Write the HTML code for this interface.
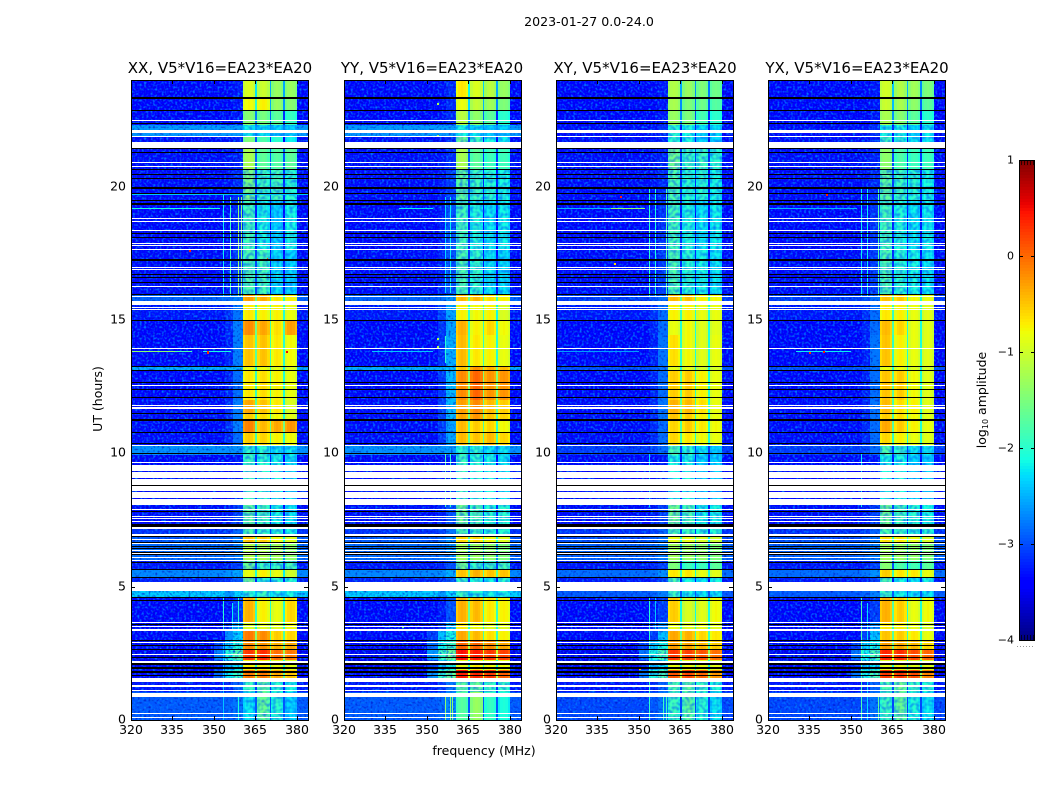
<!DOCTYPE html>
<html lang="en">
<head>
<meta charset="utf-8">
<title>2023-01-27 0.0-24.0</title>
<style>
html,body{margin:0;padding:0;background:#fff;width:1050px;height:800px;overflow:hidden}
svg{display:block}
text{font-family:"DejaVu Sans","Liberation Sans",sans-serif;fill:#000}
</style>
</head>
<body>
<svg id="chart" xmlns="http://www.w3.org/2000/svg" width="1050" height="800" viewBox="0 0 1050 800">
  <defs>
    <filter id="speckle" x="0" y="0" width="100%" height="100%" color-interpolation-filters="sRGB">
      <feTurbulence type="fractalNoise" baseFrequency="0.45" numOctaves="1" seed="3" result="n"/>
      <feColorMatrix in="n" type="matrix" values="0 0 0 0 0  0 0 0 0 0.5  0 0 0 0 1  3 0 0 0 -1.4" result="light"/>
      <feColorMatrix in="n" type="matrix" values="0 0 0 0 0  0 0 0 0 0  0 0 0 0 0.7  0 2 0 0 -1.05" result="dark"/>
      <feMerge><feMergeNode in="light"/><feMergeNode in="dark"/></feMerge>
    </filter>
    <filter id="mottle" x="0" y="0" width="100%" height="100%" color-interpolation-filters="sRGB">
      <feTurbulence type="fractalNoise" baseFrequency="0.3" numOctaves="1" seed="8"/>
      <feColorMatrix type="matrix" values="0 0 0 0 0  0 0 0 0 0.35  0 0 0 0 1  1.6 0 0 0 -0.6"/>
    </filter>
  </defs>
  <text x="589" y="26" font-size="12.6" text-anchor="middle">2023-01-27 0.0-24.0</text>
  <text x="220" y="73" font-size="15" text-anchor="middle">XX, V5*V16=EA23*EA20</text>
  <text x="432" y="73" font-size="15" text-anchor="middle">YY, V5*V16=EA23*EA20</text>
  <text x="645" y="73" font-size="15" text-anchor="middle">XY, V5*V16=EA23*EA20</text>
  <text x="857" y="73" font-size="15" text-anchor="middle">YX, V5*V16=EA23*EA20</text>
  <text x="0" y="0" font-size="12.5" text-anchor="middle" transform="translate(102 399) rotate(-90)">UT (hours)</text>
  <text x="484" y="755" font-size="12.5" text-anchor="middle">frequency (MHz)</text>
  <text x="0" y="0" font-size="12.5" text-anchor="middle" transform="translate(986 400) rotate(-90)">log<tspan font-size="8" dy="2">10</tspan><tspan dy="-2"> amplitude</tspan></text>
  <g id="panels"></g>
  <g id="colorbar"></g>
</svg>
<script>
// Time blocks (UT hours, top to bottom); each block holds one row of values per panel.
const utEdges = [24,23.33,22.88,22.31,21.86,21.45,20.62,19.5,17.62,15.94,15.56,15.0,14.44,13.28,13.09,12.0,11.51,11.25,10.76,10.28,9.94,8.06,7.2,6.86,6.64,6.0,5.63,5.36,4.88,4.58,3.68,3.38,3.0,2.66,2.25,1.88,1.58,1.05,0];

// Frequency sub-bands (MHz)
const subBands = [[360.5,365.0],[365.6,370.1],[370.7,375.0],[375.6,380.0]];
const offBandEdges = [320,350,354,357,360.5];
const freqMax = 384;
const bandShape = [-0.12,0,0.04,0,-0.12];

const xTicks = [320,335,350,365,380];
const yTicks = [0,5,10,15,20];
const colorTicks = [1,0,-1,-2,-3,-4];
const panelNames = ['xx','yy','xy','yx'];

// log10 amplitude in the four sub-bands per time block
const bandsXX = [[-0.95,-1.05,-1.35,-1.35],[-0.8,-0.75,-1.35,-1.45],[-1.45,-1.55,-1.7,-1.95],[-2.15,-2.2,-2.3,-2.3],[-1.5,-1.8,-2.0,-2.2],[-1.25,-1.7,-1.75,-1.7],[-1.55,-1.9,-1.85,-2.0],[-1.85,-2.1,-2.3,-2.1],[-1.8,-1.85,-2.25,-2.3],[-0.3,-0.4,-0.7,-0.75],[-0.7,-0.75,-0.75,-0.85],[-0.2,-0.35,-0.65,-0.3],[-0.5,-0.5,-0.7,-0.8],[-0.85,-0.85,-0.9,-0.95],[-0.7,-0.65,-0.75,-0.85],[-0.35,-0.5,-0.7,-0.95],[-0.55,-0.65,-0.8,-0.9],[-0.15,-0.45,-0.35,-0.25],[-0.55,-0.6,-0.75,-0.8],[-2.0,-2.0,-2.2,-2.2],[-1.9,-2.0,-2.1,-2.2],[-1.7,-1.85,-2.1,-2.2],[-1.8,-1.9,-2,-2.1],[-0.5,-0.55,-0.8,-0.9],[-1.2,-1.25,-1.3,-1.4],[-1.6,-1.9,-1.9,-1.85],[-0.85,-0.75,-0.85,-1.0],[-1.6,-2.0,-2.0,-2.0],[-2.0,-1.9,-2.1,-2.1],[-0.4,-0.75,-0.85,-0.6],[-0.95,-0.9,-0.9,-0.8],[-0.1,-0.2,-0.55,-0.6],[-0.2,-0.25,-0.4,-0.35],[0.25,0.3,-0.05,-0.1],[-0.75,-0.75,-0.85,-0.9],[-0.1,-0.1,-0.35,-0.5],[-1.9,-1.7,-2.0,-2.1],[-2.2,-1.65,-2.0,-2.3]];
const bandsYY = [[-0.7,-0.95,-1.15,-1.35],[-0.85,-1.1,-1.3,-1.5],[-1.15,-1.4,-1.7,-2.0],[-2.1,-2.2,-2.3,-2.3],[-1.6,-1.9,-2.1,-2.2],[-1.25,-1.7,-1.9,-1.9],[-1.7,-1.9,-2.0,-2.1],[-1.85,-2.05,-2.2,-2.15],[-1.8,-1.95,-2.2,-2.25],[-0.45,-0.45,-0.65,-0.75],[-0.75,-0.8,-0.75,-0.95],[-0.4,-0.75,-0.6,-0.8],[-0.45,-0.7,-0.75,-0.85],[-0.5,-0.25,-0.4,-0.45],[-0.2,0,-0.25,-0.25],[-0.3,-0.2,-0.45,-0.55],[-0.35,-0.25,-0.5,-0.6],[-0.45,-0.55,-0.6,-0.8],[-0.45,-0.5,-0.45,-0.6],[-2.0,-2.0,-2.2,-2.2],[-1.9,-2.0,-2.1,-2.2],[-1.6,-1.8,-2.0,-2.0],[-1.8,-1.9,-2,-2],[-0.6,-0.6,-0.8,-0.9],[-1.3,-1.35,-1.4,-1.5],[-1.6,-1.9,-1.9,-1.85],[-0.5,-0.4,-0.5,-0.5],[-1.9,-2.0,-2.1,-2.0],[-1.9,-2.0,-2.1,-2.1],[-0.4,-0.45,-0.7,-0.75],[-0.7,-0.8,-0.9,-0.9],[-0.35,-0.45,-0.65,-0.75],[0.0,0.0,-0.2,-0.35],[0.45,0.4,0.25,0.2],[-0.85,-0.7,-0.8,-0.8],[0.4,0.35,0.25,0.05],[-1.7,-1.65,-1.9,-1.95],[-1.75,-1.35,-1.95,-2.1]];
const bandsXY = [[-1.2,-1.35,-1.5,-1.6],[-1.25,-1.5,-1.6,-1.75],[-1.35,-1.5,-1.85,-2.0],[-2.0,-2.1,-2.25,-2.25],[-2.0,-2.1,-2.3,-2.3],[-1.6,-1.9,-1.9,-2.0],[-1.8,-2.0,-2.0,-2.1],[-1.85,-2.05,-2.2,-2.15],[-1.8,-2.0,-2.1,-2.2],[-0.45,-0.5,-0.75,-0.8],[-0.75,-0.75,-0.85,-0.85],[-0.85,-0.8,-0.9,-0.9],[-0.65,-0.8,-0.9,-0.85],[-0.9,-0.9,-1,-1],[-0.55,-0.55,-0.75,-0.85],[-0.4,-0.45,-0.65,-0.85],[-0.5,-0.55,-0.75,-0.85],[-0.6,-0.55,-0.7,-0.8],[-0.6,-0.7,-0.8,-0.85],[-1.8,-2.0,-2.2,-2.3],[-2.1,-2.1,-2.3,-2.3],[-1.6,-1.8,-2.1,-2.1],[-1.8,-1.9,-2,-2],[-0.85,-0.85,-0.95,-1],[-1.3,-1.35,-1.4,-1.5],[-1.5,-1.9,-1.9,-1.7],[-0.7,-0.7,-0.85,-0.9],[-1.8,-2.1,-2.2,-2.1],[-1.9,-2.1,-2.2,-2.2],[-0.55,-0.95,-0.9,-0.8],[-0.85,-0.9,-0.85,-0.9],[-0.35,-0.4,-0.6,-0.7],[-0.3,-0.35,-0.45,-0.55],[0.25,0.2,0.1,-0.05],[-0.85,-0.85,-0.85,-0.9],[0.1,0.15,0.0,-0.25],[-1.8,-1.7,-1.9,-2.05],[-1.9,-1.7,-2.0,-2.2]];
const bandsYX = [[-1.0,-1.2,-1.3,-1.5],[-1.05,-1.25,-1.4,-1.7],[-1.25,-1.45,-1.7,-2.0],[-2.1,-2.1,-2.3,-2.2],[-1.9,-2,-2.2,-2.2],[-1.4,-1.8,-1.9,-1.9],[-1.7,-1.9,-2,-2.1],[-1.85,-2.05,-2.2,-2.15],[-1.8,-2.0,-2.1,-2.2],[-0.5,-0.55,-0.8,-0.85],[-0.7,-0.75,-0.85,-0.9],[-0.45,-0.6,-0.85,-0.9],[-0.5,-0.75,-0.85,-0.9],[-0.85,-0.85,-0.95,-1],[-0.5,-0.55,-0.8,-0.9],[-0.45,-0.65,-0.75,-0.9],[-0.55,-0.65,-0.8,-0.9],[-0.35,-0.55,-0.75,-0.85],[-0.6,-0.75,-0.85,-0.9],[-1.8,-1.95,-2.2,-2.2],[-2.1,-2.1,-2.3,-2.3],[-1.6,-1.85,-2.0,-2.1],[-1.8,-1.9,-2,-2],[-0.65,-0.7,-0.85,-0.95],[-1.3,-1.35,-1.4,-1.5],[-1.45,-1.8,-1.85,-1.7],[-0.55,-0.7,-0.7,-0.85],[-1.8,-2.1,-2.2,-2.1],[-1.9,-2.1,-2.2,-2.2],[-0.4,-0.55,-0.85,-0.8],[-0.7,-0.75,-0.85,-0.95],[-0.5,-0.55,-0.7,-0.85],[-0.3,-0.35,-0.45,-0.6],[0.35,0.3,0.15,0.0],[-0.9,-0.85,-0.9,-0.9],[0.25,0.25,0.15,-0.15],[-1.8,-1.6,-1.9,-2.0],[-1.9,-1.65,-2.05,-2.2]];

// Off-band background level per time block
const bgParallel = [-3.4,-3.4,-3.4,-2.6,-3.35,-3.35,-3.35,-3.4,-3.35,-2.9,-3.3,-3.4,-3.45,-2.5,-3.4,-3.35,-3.35,-3.35,-3.35,-2.65,-3.4,-3.35,-3.15,-2.95,-2.85,-3.3,-2.7,-3.25,-2.35,-3.4,-3.4,-3.4,-3.4,-3.5,-3.5,-3.4,-3.3,-2.95];
const bgCross = [-3.4,-3.4,-3.4,-3.35,-3.35,-3.35,-3.35,-3.4,-3.35,-3.1,-3.3,-3.4,-3.45,-3.0,-3.4,-3.35,-3.35,-3.35,-3.35,-3.1,-3.4,-3.35,-3.15,-3.0,-2.9,-3.3,-2.85,-3.3,-2.95,-3.4,-3.4,-3.4,-3.4,-3.5,-3.5,-3.4,-3.3,-3.05];

// Level just below the first sub-band (357-360.5 MHz) per time block
const leakXX = [-3.3,-3.3,-3.3,-2.6,-3.25,-3.25,-3.2,-3.2,-3.1,-2.75,-2.8,-2.75,-2.75,-2.5,-2.85,-2.75,-2.75,-2.75,-2.85,-2.65,-3.3,-3.1,-2.9,-2.75,-2.75,-3.1,-2.55,-3.0,-2.3,-3.1,-2.6,-2.35,-2.05,-1.75,-2.2,-1.9,-2.9,-2.8];
const leakYY = [-3.2,-3.2,-3.2,-2.6,-3.2,-3.2,-3.1,-3.0,-3.0,-2.65,-2.55,-2.55,-2.5,-2.4,-2.45,-2.45,-2.45,-2.55,-2.55,-2.6,-3.3,-3.0,-2.8,-2.65,-2.65,-3.0,-2.5,-3.0,-2.3,-3.0,-2.45,-2.1,-1.85,-1.6,-2.1,-1.65,-2.8,-2.7];
const leakCross = [-3.3,-3.3,-3.3,-3.2,-3.25,-3.25,-3.2,-3.15,-3.1,-2.85,-2.85,-2.85,-2.8,-2.8,-2.85,-2.8,-2.8,-2.85,-2.85,-2.85,-3.3,-3.1,-2.9,-2.8,-2.75,-3.1,-2.65,-3.1,-2.75,-3.1,-2.65,-2.4,-2.1,-1.8,-2.2,-1.8,-2.9,-2.8];

// Flagged time ranges (UT hours), common to all panels
const blackRows = [23.325,22.86,22.36,21.42,21.27,20.65,20.45,20.31,19.95,19.75,19.47,19.35,18.25,18.09,17.25,16.72,16.6,16.41,15.94,14.99,13.25,13.11,12.66,12.4,12.08,11.5,11.25,10.77,10.36,9.98,8.8,7.83,6.87,6.67,6.52,6.42,6.27,6.2,5.89,5.66,5.35,4.58,4.49,3.57,2.99,2.8,2.64,2.33,2.1,1.95,1.8,1.68];
const blackSpans = [[7.24,7.35]];
const whiteRows = [22.47,21.87,20.91,20.76,18.81,18.71,18.36,17.86,17.78,17.64,16.98,16.89,16.26,15.87,15.46,15.38,13.94,12.53,11.8,11.7,10.3,9.65,7.9,7.62,7.55,7.43,7.2,6.76,6.61,6.49,6.35,6.24,6.1,5.97,4.6,3.66,3.49,3.375,2.91,2.45,2.175,2.13,0.26,0.11];
const whiteSpans = [[22.01,22.13],[21.45,21.68],[15.56,15.71],[9.35,9.57],[9.08,9.3],[8.82,9.03],[8.58,8.76],[8.33,8.54],[8.08,8.28],[6.9,6.98],[4.85,5.18],[1.425,1.575],[1.25,1.3],[1.075,1.11],[0.85,1.01]];

// Narrow vertical interference: panel, frequency, from UT, to UT, level
const rfiLines = [
  [0,353.4,15.9,19.7,-2.2],[0,355.9,15.9,19.6,-1.9],[0,358.7,15.9,19.6,-1.4],[0,359.8,15.9,19.6,-1.4],
  [0,353.4,3.4,4.6,-2.0],[0,358.7,3.4,4.6,-2.0],[0,356.6,3.4,4.4,-2.2],[0,358.7,0,1,-2.1],[0,353.4,0,2.9,-2.4],
  [1,356.5,13.4,14.4,-2.0],[1,356.5,16,19.6,-2.3],[1,358.3,16,19.6,-2.2],[1,356.5,0,1,-1.4],[1,358.3,0,1,-1.4],[1,359.1,0,1,-1.4],[1,356.5,8,10,-1.8],[1,358.3,8,10,-2.0],
  [2,353.5,15.9,19.9,-2.0],[2,355.8,15.9,19.9,-2.1],[2,359.8,15.9,19.9,-1.8],[2,353.5,0,4.6,-2.0],[2,355.8,3.4,4.6,-2.4],[2,358.7,0,1,-1.9],[2,359.8,0,1,-1.9],[2,353.5,8,10,-2.3],
  [3,353.5,15.9,19.9,-2.2],[3,355.8,15.9,19.9,-2.2],[3,359.8,15.9,19.9,-1.8],[3,353.5,0,4.6,-1.8],[3,355.8,0,4.4,-2.3],[3,359.8,0,1,-1.7],[3,353.5,8,10,-2.2]
];

// Narrow horizontal interference: panel, UT, from MHz, to MHz, level
const rfiRows = [
  [0,19.18,320,352,-2.1],[0,19.7,320,384,-2.4],[0,13.82,320,336,-1.4],[0,13.82,336,342,-1.8],[0,13.82,346,356,-2.1],
  [1,19.18,340,352,-2.2],[1,13.82,330,352,-2.4],
  [2,19.18,320,340,-2.5],[2,19.18,340,352,-1.4],[2,13.82,320,350,-2.6],
  [3,19.18,320,352,-2.5],[3,13.82,330,350,-2.2]
];

// Isolated hot pixels: panel, frequency, UT, level
const rfiPoints = [
  [2,343,19.6,0.4],[3,341,19.7,0.4],[0,347.5,13.78,0.3],[0,369,17.3,0.2],[0,341,17.6,0.4],
  [1,353.5,23.1,-1.2],[1,353.5,21.9,-1.3],[1,353.5,14.3,-1.2],[1,353.5,14.0,-1.2],[2,341,17.1,-0.6],[0,376,13.8,0.5],[3,340,13.8,0.4],[1,341,3.5,-1.5],
  [0,352,2.1,-0.4],[2,350,1.9,-0.5],[3,335,13.75,0.3]
];

const SVGNS = 'http://www.w3.org/2000/svg';
const panelLefts = [131,344,556,768];
const panelW = 177;
const plotTop = 80;
const plotBottom = 720;
const cbLeft = 1019, cbRight = 1035, cbTop = 160, cbBottom = 640;

function jet(v){
  const f = Math.max(0,Math.min(1,(v+4)/5));
  const ramp = (x,a,b)=>Math.max(0,Math.min(1,(x-a)/(b-a)));
  let r = f<0.89 ? ramp(f,0.35,0.66) : 1-0.5*ramp(f,0.89,1);
  let g = f<0.64 ? ramp(f,0.125,0.375) : 1-ramp(f,0.64,0.91);
  let b = f<0.34 ? 0.5+0.5*ramp(f,0,0.11) : 1-ramp(f,0.34,0.65);
  return 'rgb('+Math.round(r*255)+','+Math.round(g*255)+','+Math.round(b*255)+')';
}
function xScale(left,mhz){ return left+(mhz-320)/(freqMax-320)*panelW; }
function yScale(ut){ return plotBottom-ut/24*(plotBottom-plotTop); }
function cbScale(v){ return cbBottom-(v+4)/5*(cbBottom-cbTop); }

function mk(tag,attrs,parent){
  const el = document.createElementNS(SVGNS,tag);
  for(const k in attrs){ el.setAttribute(k,attrs[k]); }
  parent.appendChild(el);
  return el;
}
function cell(parent,left,f1,f2,u1,u2,fill,name){
  const x1 = Math.round(xScale(left,f1)), x2 = Math.round(xScale(left,f2));
  const y1 = Math.round(yScale(u1)), y2 = Math.round(yScale(u2));
  const el = mk('rect',{x:x1,y:y1,width:Math.max(1,x2-x1),height:Math.max(1,y2-y1),fill:fill},parent);
  
  
  return el;
}

const panelsG = document.getElementById('panels');
const bandSets = [bandsXX,bandsYY,bandsXY,bandsYX];
const bgSets = [bgParallel,bgParallel,bgCross,bgCross];
const leakSets = [leakXX,leakYY,leakCross,leakCross];

panelNames.forEach(function(pn,pi){
  const left = panelLefts[pi];
  const g = mk('g',{'shape-rendering':'crispEdges'},panelsG);
  
  
  const cells = mk('g',{},g);
  
  

  for(let b=0;b<utEdges.length-1;b++){
    const uTop = utEdges[b], uBot = utEdges[b+1];
    const bg = bgSets[pi][b], leak = leakSets[pi][b], vals = bandSets[pi][b];
    // off-band columns below the first sub-band
    const strong = leak > -2.4;
    const offLevels = [bg, strong ? Math.max(bg,leak-1.0) : bg, strong ? leak-0.3 : bg+(leak-bg)*0.3, leak];
    for(let c=0;c<offBandEdges.length-1;c++){
      cell(cells,left,offBandEdges[c],offBandEdges[c+1],uTop,uBot,jet(offLevels[c]),'heatmap-cell');
    }
    // sub-bands and the gaps between them
    subBands.forEach(function(sb,s){
      const step = (sb[1]-sb[0])/bandShape.length;
      bandShape.forEach(function(sh,k){
        cell(cells,left,sb[0]+k*step,sb[0]+(k+1)*step,uTop,uBot,jet(vals[s]+sh),'heatmap-cell');
      });
      if(s<subBands.length-1){
        const gapV = Math.max(bg,Math.min(vals[s],vals[s+1])-1.2);
        cell(cells,left,sb[1],subBands[s+1][0],uTop,uBot,jet(gapV),'heatmap-cell');
      }
    });
    // above the last sub-band
    cell(cells,left,subBands[3][1],freqMax,uTop,uBot,jet(bg),'heatmap-cell');
    // mottled texture on weak blocks
    if(Math.max.apply(null,vals) < -1.5){
      const x1 = Math.round(xScale(left,subBands[0][0]));
      const x2 = Math.round(xScale(left,subBands[3][1]));
      const y1 = Math.round(yScale(uTop));
      const y2 = Math.round(yScale(uBot));
      const m = mk('rect',{x:x1,y:y1,width:x2-x1,height:y2-y1,filter:'url(#mottle)'},cells);
      
      
    }
  }

  // speckle over the off-band background
  const speck1 = mk('rect',{x:left,y:plotTop,width:Math.round(xScale(left,360.5))-left,height:plotBottom-plotTop,filter:'url(#speckle)'},g);
  
  
  const speck2 = mk('rect',{x:Math.round(xScale(left,380)),y:plotTop,width:left+panelW-Math.round(xScale(left,380)),height:plotBottom-plotTop,filter:'url(#speckle)'},g);
  
  

  rfiRows.filter(r=>r[0]===pi).forEach(function(r){
    cell(g,left,r[2],r[3],r[1]+0.025,r[1]-0.025,jet(r[4]),'rfi-row');
  });
  rfiLines.filter(r=>r[0]===pi).forEach(function(r){
    cell(g,left,r[1],r[1]+0.3,r[3],r[2],jet(r[4]),'rfi-line');
  });
  rfiPoints.filter(r=>r[0]===pi).forEach(function(r){
    cell(g,left,r[1],r[1]+0.7,r[2]+0.04,r[2]-0.04,jet(r[3]),'rfi-point');
  });

  // flagged rows
  whiteSpans.forEach(function(s){ cell(g,left,320,freqMax,s[1],s[0],'#fff','flagged-span'); });
  whiteRows.forEach(function(u){ cell(g,left,320,freqMax,u+0.02,u-0.02,'#fff','flagged-row'); });
  blackSpans.forEach(function(s){ cell(g,left,320,freqMax,s[1],s[0],'#000','black-span'); });
  blackRows.forEach(function(u){ cell(g,left,320,freqMax,u+0.02,u-0.02,'#000','black-row'); });

  // frame
  const frame = mk('rect',{x:left+0.5,y:plotTop+0.5,width:panelW,height:plotBottom-plotTop,fill:'none',stroke:'#000','stroke-width':1},g);
  
  

  // ticks and labels
  xTicks.forEach(function(t){
    const x = Math.round(xScale(left,t))+0.5;
    const t1 = mk('line',{x1:x,x2:x,y1:plotBottom,y2:plotBottom-4,stroke:'#000'},g);
    
    
    const t2 = mk('line',{x1:x,x2:x,y1:plotTop,y2:plotTop+4,stroke:'#000'},g);
    
    
    const lab = mk('text',{x:x-0.5,y:plotBottom+14,'font-size':12.5,'text-anchor':'middle'},panelsG);
    lab.textContent = String(t);
    
    
  });
  yTicks.forEach(function(t){
    const y = Math.round(yScale(t))+0.5;
    const t1 = mk('line',{x1:left,x2:left+4,y1:y,y2:y,stroke:'#000'},g);
    
    
    const t2 = mk('line',{x1:left+panelW,x2:left+panelW-4,y1:y,y2:y,stroke:'#000'},g);
    
    
    const lab = mk('text',{x:left-5,y:y+3,'font-size':12.5,'text-anchor':'end'},panelsG);
    lab.textContent = String(t);
    
    
  });
});

// Colorbar
const cb = document.getElementById('colorbar');
const cbSteps = 160;
const cbRamp = mk('g',{'shape-rendering':'crispEdges'},cb);


for(let i=0;i<cbSteps;i++){
  const v0 = -4+5*i/cbSteps, v1 = -4+5*(i+1)/cbSteps;
  const y1 = Math.round(cbScale(v1)), y0 = Math.round(cbScale(v0));
  mk('rect',{x:cbLeft,y:y1,width:cbRight-cbLeft,height:y0-y1,fill:jet((v0+v1)/2)},cbRamp);
}
const cbFrame = mk('rect',{x:cbLeft+0.5,y:cbTop+0.5,width:cbRight-cbLeft-1,height:cbBottom-cbTop,fill:'none',stroke:'#000','shape-rendering':'crispEdges'},cb);


colorTicks.forEach(function(t){
  const y = Math.round(cbScale(t))+0.5;
  const a = mk('line',{x1:cbLeft,x2:cbLeft+4,y1:y,y2:y,stroke:'#000','shape-rendering':'crispEdges'},cb);
  
  
  const c = mk('line',{x1:cbRight,x2:cbRight-4,y1:y,y2:y,stroke:'#000','shape-rendering':'crispEdges'},cb);
  
  
  const lab = mk('text',{x:cbLeft-5,y:y+3,'font-size':11,'text-anchor':'end'},cb);
  lab.textContent = (t<0?'\u2212':'')+Math.abs(t);
  
  
});
for(let x=cbLeft+2;x<cbRight-1;x+=3){
  mk('line',{x1:x+0.5,x2:x+0.5,y1:cbTop,y2:cbTop+5,stroke:'#000','stroke-opacity':0.7,'shape-rendering':'crispEdges'},cb);
  mk('line',{x1:x+0.5,x2:x+0.5,y1:cbBottom,y2:cbBottom-5,stroke:'#000','stroke-opacity':0.7,'shape-rendering':'crispEdges'},cb);
}
const dots = mk('line',{x1:1017,x2:1035,y1:646.5,y2:646.5,stroke:'#999','stroke-dasharray':'1 2','shape-rendering':'crispEdges'},cb);


</script>
</body>
</html>
